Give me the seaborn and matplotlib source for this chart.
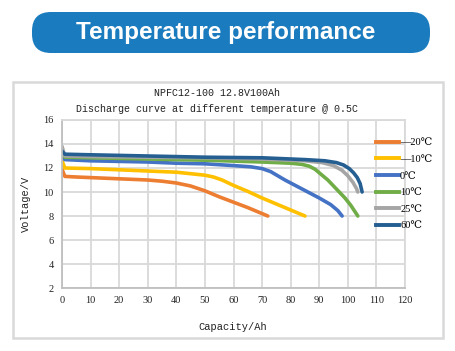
import numpy as np
import pandas as pd
import matplotlib
matplotlib.use("Agg")
import matplotlib.pyplot as plt
import seaborn as sns
from matplotlib.patches import FancyBboxPatch, Rectangle
from matplotlib.lines import Line2D

# ---- data ----
labels = ["—20℃", "—10℃", "0℃", "10℃", "25℃", "60℃"]
colors = ["#ED7D31", "#FFC000", "#4472C4", "#70AD47", "#A5A5A5", "#255E91"]

cap_m20 = [0, 1, 5, 10, 20, 30, 35, 40, 45, 50, 55, 60, 65, 72]
v_m20 = [11.9, 11.3, 11.25, 11.2, 11.1, 11.0, 10.9, 10.75, 10.5, 10.1, 9.6, 9.15, 8.7, 8.0]

cap_m10 = [0, 1, 10, 20, 30, 40, 50, 53, 56, 60, 65, 70, 75, 80, 85]
v_m10 = [12.6, 12.0, 11.95, 11.85, 11.75, 11.65, 11.4, 11.25, 11.0, 10.55, 10.05, 9.5, 9.0, 8.5, 8.0]

cap_0 = [0, 1, 10, 20, 30, 40, 50, 60, 66, 70, 73, 75.5, 78, 82, 86, 90, 94, 96.5, 98]
v_0 = [13.0, 12.7, 12.6, 12.55, 12.5, 12.4, 12.35, 12.2, 12.1, 11.95, 11.7, 11.35, 11.0, 10.5, 10.0, 9.5, 8.95, 8.45, 8.0]

cap_10 = [0, 1, 10, 30, 50, 70, 80, 84, 86.5, 88.5, 90.5, 93, 95, 97, 99, 101, 103.5]
v_10 = [13.3, 12.9, 12.85, 12.75, 12.65, 12.5, 12.4, 12.3, 12.15, 11.9, 11.5, 11.0, 10.5, 10.0, 9.5, 8.9, 8.0]

cap_25 = [0, 1, 10, 30, 50, 70, 85, 91, 95, 98, 100, 101.8, 103, 103.5]
v_25 = [13.8, 13.0, 12.95, 12.9, 12.85, 12.75, 12.6, 12.45, 12.2, 11.8, 11.35, 10.8, 10.3, 10.0]

cap_60 = [0, 1, 10, 30, 50, 70, 85, 92, 96, 98.5, 100.5, 102, 103.3, 104.3, 105]
v_60 = [13.4, 13.15, 13.1, 13.0, 12.9, 12.85, 12.7, 12.6, 12.45, 12.25, 11.95, 11.6, 11.2, 10.7, 10.0]

x_ticks = list(range(0, 121, 10))
y_ticks = list(range(2, 17, 2))

series = [(cap_m20, v_m20), (cap_m10, v_m10), (cap_0, v_0),
          (cap_10, v_10), (cap_25, v_25), (cap_60, v_60)]
frames = []
for lab, (c, v) in zip(labels, series):
    frames.append(pd.DataFrame({"cap": c, "volt": v, "temp": lab}))
df = pd.concat(frames, ignore_index=True)

# ---- figure ----
W, H = 455, 351
fig = plt.figure(figsize=(W / 100, H / 100), dpi=100)

bg = fig.add_axes([0, 0, 1, 1])
bg.set_xlim(0, W)
bg.set_ylim(H, 0)
bg.axis("off")

# banner
bg.add_patch(FancyBboxPatch((32, 12), 398, 41,
                            boxstyle="round,pad=0,rounding_size=19",
                            facecolor="#1A7BBE", edgecolor="none"))
bg.text(226, 33, "Temperature performance", color="white",
        fontsize=17.5, fontweight="bold", family="Liberation Sans",
        ha="center", va="center")

# chart border
bg.add_patch(Rectangle((13, 82), 430, 256, facecolor="none",
                       edgecolor="#D9D9D9", linewidth=1.8))

serif = ["Liberation Serif", "DejaVu Serif", "DejaVu Sans"]
bg.text(217, 93, "NPFC12-100 12.8V100Ah", family="Liberation Mono",
        fontsize=7.2, ha="center", va="center", color="#222222")
bg.text(217, 109, "Discharge curve at different temperature @ 0.5C",
        family="Liberation Mono", fontsize=7.2, ha="center", va="center",
        color="#222222")
bg.text(233, 327, "Capacity/Ah", family="Liberation Mono", fontsize=7.5,
        ha="center", va="center", color="#222222")
bg.text(26, 204, "Voltage/V", family="Liberation Mono", fontsize=7.5,
        ha="center", va="center", rotation=90, color="#222222")

# main axes
L, R, T, B = 62, 405, 120, 288
ax = fig.add_axes([L / W, 1 - B / H, (R - L) / W, (B - T) / H])
ax.set_facecolor("white")

sns.lineplot(data=df, x="cap", y="volt", hue="temp", hue_order=labels,
             palette=colors, sort=False, estimator=None, units="temp",
             linewidth=2.6, ax=ax, legend=False)
for ln in ax.get_lines():
    ln.set_solid_joinstyle("round")
    ln.set_solid_capstyle("round")

ax.set_xlim(0, 120)
ax.set_ylim(2, 16)
ax.set_xticks(x_ticks)
ax.set_yticks(y_ticks)
ax.grid(True, color="#D9D9D9", linewidth=1.3)
ax.set_axisbelow(True)
for s in ax.spines.values():
    s.set_color("#D9D9D9")
    s.set_linewidth(1.3)
ax.spines["left"].set_color("#BFBFBF")
ax.spines["bottom"].set_color("#BFBFBF")
ax.tick_params(length=0, pad=6, labelsize=7.5, colors="#222222")
for t in ax.get_xticklabels() + ax.get_yticklabels():
    t.set_family(serif)
ax.set_xlabel("")
ax.set_ylabel("")

# legend
handles = [Line2D([0], [0], color=c, linewidth=2.8) for c in colors]
leg = fig.legend(handles, labels, loc="upper left",
                 bbox_to_anchor=(372 / W, 1 - 134 / H),
                 frameon=False, handlelength=2.2, handletextpad=0.1,
                 labelspacing=0.7, prop={"family": serif, "size": 7.5},
                 borderaxespad=0)

fig.savefig("out.png", dpi=100)
